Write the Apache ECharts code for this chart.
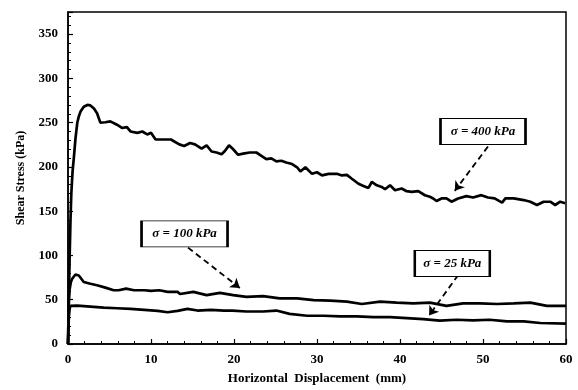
<!DOCTYPE html>
<html><head><meta charset="utf-8">
<script src="https://cdn.jsdelivr.net/npm/echarts@6/dist/echarts.min.js"></script>
<style>html,body{margin:0;padding:0;background:#fff}#c{width:578px;height:390px}</style>
</head><body><div id="c"></div>
<script>
// Data: [horizontal displacement (mm), shear stress (kPa)]
var s400 = [[0,0],[0.1,50],[0.2,100],[0.3,140],[0.4,170],[0.55,195],[0.72,212],[0.9,232],[1.12,250],[1.3,257],[1.53,263],[1.9,268],[2.33,270],[2.7,269.5],[3.13,266],[3.5,260.7],[3.9,250],[4.5,250.5],[5.1,251.5],[5.9,247.7],[6.5,244],[7.1,245],[7.55,240],[8.35,238.5],[8.95,240],[9.55,236.7],[10.0,238.5],[10.55,231],[11.6,231],[12.4,231],[13.4,225.5],[14.0,223.7],[14.7,227],[15.3,225.5],[16.1,220.7],[16.7,224.4],[17.3,217.4],[17.9,216.3],[18.5,214.4],[18.9,218],[19.4,224.4],[19.9,220],[20.5,213.7],[21.1,215],[21.9,216.3],[22.7,216.3],[23.3,212.6],[23.9,208.9],[24.5,209.6],[25.1,206.3],[25.7,207],[26.3,205],[27.0,203.3],[27.6,199.6],[28.0,194.8],[28.6,199.6],[29.4,192.2],[30.0,194],[30.6,190.4],[31.4,192.2],[32.4,192.2],[33.0,190.4],[33.6,191],[34.2,186.7],[35.0,181],[35.6,178.5],[36.2,176.3],[36.6,183],[37.2,179.3],[37.8,177.4],[38.2,174.8],[38.8,179.3],[39.4,173.7],[40.2,175.6],[40.8,172.6],[41.4,171.9],[42.2,172.6],[43.0,168],[43.6,166.3],[44.0,164.4],[44.4,161.5],[45.0,164.4],[45.6,164.4],[46.2,160.7],[47.0,164.4],[48.0,167],[48.8,165.5],[49.8,168.1],[50.6,165.5],[51.4,164.4],[52.3,159.6],[52.7,164.4],[53.7,164.4],[54.9,162.6],[55.7,160.7],[56.5,157],[57.3,160.7],[58.1,160.7],[58.7,157],[59.3,160.7],[59.9,159]];
var s100 = [[0,0],[0.05,25],[0.1,50],[0.2,62],[0.35,70],[0.5,73.7],[0.9,78.5],[1.3,77.4],[1.9,70],[2.7,68],[3.5,66.3],[4.5,63.7],[5.5,60.7],[6.1,60.7],[7,62.6],[7.95,60.7],[9.2,60.7],[10,60],[11,60.7],[12,58.9],[13.2,58.9],[13.5,56.5],[15.1,58.9],[16.7,55.2],[18.3,57.8],[19.9,55.2],[21.5,53.3],[23.5,54],[25.5,51.5],[27.6,51.5],[29.6,49.6],[31.6,48.9],[33.6,47.8],[35.4,45.2],[37.6,47.8],[39.6,46.7],[41.6,45.9],[43.6,46.7],[45.6,43],[47.6,45.9],[49.6,45.9],[51.7,45.2],[53.7,45.9],[55.7,46.7],[57.7,43],[60,43]];
var s25 = [[0,0],[0.05,15],[0.1,30],[0.2,40],[0.3,43],[1.1,43.3],[2.7,42.2],[4.3,41],[5.9,40.4],[7.55,39.6],[9.2,38.5],[10.8,37.4],[12,35.9],[13.2,37.4],[14.4,39.6],[15.6,37.8],[17.2,38.5],[18.8,37.8],[19.8,37.8],[21.5,36.7],[23.5,36.7],[25.1,37.8],[26.7,34],[28.8,31.9],[30.8,31.9],[32.8,31.1],[34.8,31.1],[36.8,30.4],[38.8,30.4],[40.8,29.3],[42.8,28.1],[44.8,26.3],[46.8,27.4],[48.8,26.7],[50.8,27.4],[52.9,25.6],[54.9,25.6],[56.9,23.7],[60,23]];
var labels = ['σ = 400 kPa', 'σ = 100 kPa', 'σ = 25 kPa'];
// annotation anchors in data coordinates: label centre, arrow start, arrow end
var labelPos = [[50,240],[14.04,124.4],[46.3,91]];
var arrowFrom = [[50.6,223],[14.46,108.9],[47,77.8]];
var arrowTo = [[46.6,173],[20.7,63.3],[43.5,32.2]];
var xTicks = [0,10,20,30,40,50,60];
var yTicks = [0,50,100,150,200,250,300,350];

var FONT = '"Liberation Serif","Times New Roman",serif';
var chart = echarts.init(document.getElementById('c'));
var boxW = [85,86,75];
function mkSeries(d, i){
  return {
    type:'line', data:d, showSymbol:false, symbol:'none', animation:false,
    lineStyle:{color:'#000', width:2.7}, z:3,
    markPoint:{
      symbol:'rect', symbolSize:[boxW[i],26], silent:true, animation:false,
      itemStyle:{color:'#fff', borderColor:'#000', borderWidth:1.5},
      label:{show:true, formatter:labels[i], color:'#000', fontFamily:FONT, fontStyle:'italic', fontWeight:'bold', fontSize:13},
      data:[{coord:labelPos[i]}]
    },
    markLine:{
      silent:true, animation:false, symbol:['none','arrow'], symbolSize:9,
      label:{show:false},
      lineStyle:{color:'#000', type:[6,4], width:1.8},
      data:[[{coord:arrowFrom[i]},{coord:arrowTo[i]}]]
    }
  };
}
chart.setOption({
  animation:false,
  grid:{left:68, right:12, top:12, bottom:42, show:true, borderColor:'#000', borderWidth:1.5, backgroundColor:'#fff'},
  xAxis:{
    type:'value', min:xTicks[0], max:xTicks[xTicks.length-1], interval:10,
    name:'Horizontal  Displacement  (mm)', nameLocation:'middle', nameGap:28,
    nameTextStyle:{fontFamily:FONT, fontWeight:'bold', fontSize:13, color:'#000'},
    axisLine:{lineStyle:{color:'#000', width:1.5}},
    axisTick:{inside:true, length:5, lineStyle:{color:'#000', width:1.2}},
    minorTick:{show:true, splitNumber:5, length:3, lineStyle:{color:'#000', width:1}},
    splitLine:{show:false},
    axisLabel:{fontFamily:FONT, fontWeight:'bold', fontSize:13, color:'#000', margin:9}
  },
  yAxis:{
    type:'value', min:yTicks[0], max:375, interval:50,
    name:'Shear Stress (kPa)', nameLocation:'middle', nameGap:41, nameRotate:90,
    nameTextStyle:{fontFamily:FONT, fontWeight:'bold', fontSize:12, color:'#000'},
    axisLine:{lineStyle:{color:'#000', width:1.5}},
    axisTick:{inside:true, length:5, lineStyle:{color:'#000', width:1.2}},
    minorTick:{show:true, splitNumber:5, length:3, lineStyle:{color:'#000', width:1}},
    splitLine:{show:false},
    axisLabel:{fontFamily:FONT, fontWeight:'bold', fontSize:13, color:'#000', margin:10, showMaxLabel:false,
      formatter:function(v){return yTicks.indexOf(v)>=0 ? String(v) : '';}}
  },
  series:[mkSeries(s400,0), mkSeries(s100,1), mkSeries(s25,2)]
});
</script></body></html>
